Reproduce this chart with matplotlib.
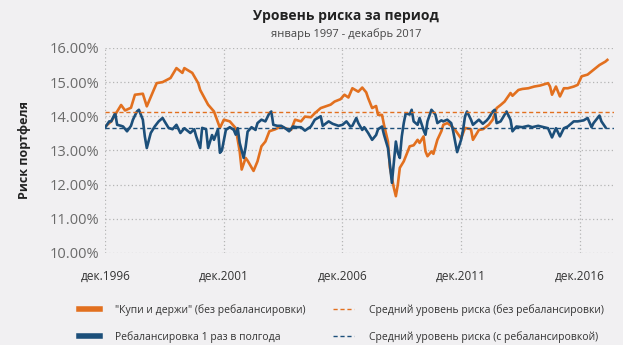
import matplotlib
matplotlib.use("Agg")
import matplotlib.pyplot as plt

# месяцы от дек.1996 и значения риска (%)
buy_hold_months = [0, 3, 6, 8, 10, 13, 15, 19, 21, 24, 26, 29, 33, 36, 39, 40, 44, 47, 48, 52,
                   55, 58, 60, 63, 66, 68, 69, 71, 72, 75, 77, 79, 81, 83, 86, 89, 91, 94, 96, 99,
                   101, 104, 106, 109, 111, 114, 116, 119, 121, 123, 125, 128, 130, 132, 133, 135, 137, 138, 140, 141,
                   143, 144, 146, 147, 148, 149, 151, 153, 154, 156, 158, 159, 161, 162, 163, 165, 166, 168, 170, 171,
                   173, 175, 177, 180, 182, 185, 186, 189, 191, 194, 196, 198, 200, 202, 205, 206, 209, 211, 214, 217,
                   220, 224, 225, 226, 228, 230, 232, 234, 237, 239, 241, 244, 247, 250, 253, 254]
buy_hold = [13.70, 13.85, 14.14, 14.33, 14.17, 14.25, 14.63, 14.66, 14.29, 14.70, 14.97, 15.00, 15.12, 15.41, 15.27, 15.41, 15.27, 14.97, 14.77, 14.34,
            14.14, 13.66, 13.90, 13.85, 13.65, 12.97, 12.44, 12.78, 12.70, 12.40, 12.68, 13.12, 13.26, 13.56, 13.62, 13.70, 13.65, 13.60, 13.90, 13.85,
            13.99, 13.97, 14.09, 14.24, 14.28, 14.34, 14.43, 14.50, 14.63, 14.55, 14.82, 14.72, 14.84, 14.70, 14.53, 14.24, 14.30, 14.04, 14.04, 13.75,
            13.26, 12.49, 11.90, 11.66, 12.00, 12.49, 12.68, 12.97, 13.12, 13.15, 13.31, 13.22, 13.41, 12.97, 12.83, 12.97, 12.90, 13.31, 13.56, 13.75,
            13.80, 13.72, 13.60, 13.35, 13.66, 13.62, 13.31, 13.60, 13.62, 13.75, 13.90, 14.24, 14.33, 14.43, 14.68, 14.60, 14.77, 14.80, 14.82, 14.87,
            14.90, 14.97, 14.87, 14.63, 14.87, 14.58, 14.82, 14.82, 14.87, 14.92, 15.17, 15.22, 15.36, 15.50, 15.60, 15.65]

rebal_months = [0, 2, 3, 5, 6, 8, 9, 11, 13, 14, 16, 17, 19, 20, 21, 23, 25, 27, 29, 30,
                32, 34, 36, 38, 40, 43, 45, 46, 48, 49, 51, 52, 54, 55, 57, 58, 59, 61, 63, 65,
                66, 67, 68, 70, 71, 72, 74, 76, 77, 79, 81, 83, 84, 85, 87, 89, 91, 93, 95, 97,
                99, 101, 104, 106, 109, 110, 113, 115, 118, 120, 122, 124, 125, 127, 128, 130, 131, 133, 135, 137,
                138, 140, 141, 143, 144, 145, 146, 147, 148, 149, 150, 151, 152, 154, 155, 156, 158, 159, 161, 162,
                163, 165, 167, 168, 170, 171, 173, 175, 176, 178, 180, 181, 182, 183, 185, 186, 189, 191, 193, 194,
                196, 197, 198, 200, 203, 205, 206, 208, 211, 214, 216, 219, 222, 224, 226, 228, 230, 232, 234, 237,
                239, 242, 244, 246, 247, 250, 251, 253]
rebal = [13.68, 13.85, 13.85, 14.09, 13.75, 13.72, 13.70, 13.56, 13.72, 13.90, 14.14, 14.19, 13.90, 13.41, 13.07, 13.51, 13.70, 13.85, 13.95, 13.85,
         13.66, 13.62, 13.75, 13.51, 13.65, 13.51, 13.62, 13.41, 13.07, 13.66, 13.62, 13.07, 13.45, 13.31, 13.62, 12.93, 13.00, 13.60, 13.68, 13.60,
         13.46, 13.65, 13.22, 12.78, 13.10, 13.55, 13.68, 13.60, 13.80, 13.90, 13.85, 14.09, 14.14, 13.75, 13.72, 13.72, 13.65, 13.56, 13.70, 13.68,
         13.68, 13.58, 13.70, 13.90, 14.00, 13.72, 13.85, 13.78, 13.72, 13.75, 13.85, 13.70, 13.72, 13.95, 13.80, 13.60, 13.68, 13.51, 13.31, 13.45,
         13.62, 13.70, 13.46, 13.07, 12.58, 12.05, 12.65, 13.26, 12.93, 12.78, 13.41, 13.80, 14.09, 14.05, 14.19, 13.85, 13.75, 13.95, 13.60, 13.46,
         13.85, 14.19, 14.05, 13.80, 13.88, 13.85, 13.90, 13.80, 13.56, 12.95, 13.31, 13.60, 14.00, 14.14, 13.90, 13.75, 13.90, 13.78, 13.88, 13.95,
         14.14, 14.19, 13.80, 13.85, 14.14, 13.90, 13.56, 13.70, 13.68, 13.72, 13.68, 13.72, 13.68, 13.65, 13.38, 13.65, 13.41, 13.65, 13.70, 13.85,
         13.85, 13.88, 13.95, 13.68, 13.80, 14.02, 13.85, 13.68]

mean_buy_hold = 14.12
mean_rebal = 13.67

tick_months = [0, 60, 120, 180, 240]
tick_labels = ["дек.1996", "дек.2001", "дек.2006", "дек.2011", "дек.2016"]
y_ticks = [10, 11, 12, 13, 14, 15, 16]

orange = "#e2701f"
blue = "#1c4f7a"
bg = "#f1f0f2"

plt.rcParams["font.family"] = ["Open Sans", "DejaVu Sans"]

fig = plt.figure(figsize=(6.23, 3.45), dpi=100, facecolor=bg)
ax = fig.add_axes([0.169, 0.267, 0.817, 0.594], facecolor=bg)

ax.plot(buy_hold_months, buy_hold, color=orange, lw=1.9, label='"Купи и держи" (без ребалансировки)')
ax.plot(rebal_months, rebal, color=blue, lw=1.9, label="Ребалансировка 1 раз в полгода")
ax.axhline(mean_buy_hold, color=orange, lw=1, ls=(0, (3, 2)), label="Средний уровень риска (без ребалансировки)")
ax.axhline(mean_rebal, color=blue, lw=1, ls=(0, (3, 2)), label="Средний уровень риска (с ребалансировкой)")

ax.set_xlim(0, 257.5)
ax.set_ylim(10, 16)
ax.set_xticks(tick_months)
ax.set_xticklabels(tick_labels, fontsize=8.5, color="#333333")
ax.set_yticks(y_ticks)
ax.set_yticklabels(["%.2f%%" % v for v in y_ticks], fontsize=10.5, color="#6a6a6a")
ax.tick_params(length=0)
ax.tick_params(axis="x", pad=12)
ax.tick_params(axis="y", pad=4)
ax.grid(True, color="#b5b5b5", ls=(0, (1, 2)), lw=0.9)
for s in ax.spines.values():
    s.set_visible(False)

ax.set_ylabel("Риск портфеля", fontsize=9, fontweight="bold", color="#222222", labelpad=14)

fig.text(0.555, 0.955, "Уровень риска за период", ha="center", va="center",
         fontsize=10, fontweight="bold", color="#222222")
fig.text(0.555, 0.9, "январь 1997 - декабрь 2017", ha="center", va="center",
         fontsize=8, color="#444444")

leg = fig.legend(loc="lower left", bbox_to_anchor=(0.112, -0.02), ncol=2, frameon=False,
                 fontsize=7.5, handlelength=2.0, handletextpad=1.45, columnspacing=2.6,
                 labelspacing=1.45, labelcolor="#333333")
for h in leg.legend_handles[:2]:
    h.set_linewidth(4)

fig.savefig("out.png", dpi=100, facecolor=bg)
